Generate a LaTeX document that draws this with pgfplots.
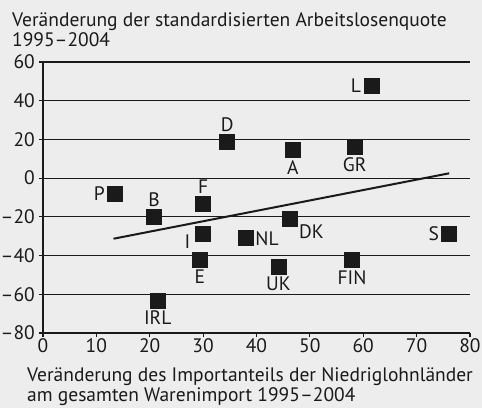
\documentclass[border=0pt]{standalone}
\usepackage{fontspec}
\setmainfont{PT Sans}
\usepackage{pgfplots}
\pgfplotsset{compat=1.18}
\definecolor{bg}{HTML}{EDEDED}
\definecolor{ink}{HTML}{1A1A1A}

\pgfplotsset{
    land/.style={
        only marks, mark=square*, mark size=7.5pt, ink,
        point meta=explicit symbolic,
        nodes near coords,
        nodes near coords style={inner sep=0pt, ink, #1},
    },
}

\begin{document}
\begin{tikzpicture}[font=\fontsize{19.5}{19.5}\selectfont, color=ink]
\fill[bg] (0,0) rectangle (482pt,408pt);
\useasboundingbox (0,0) rectangle (482pt,408pt);

\node[anchor=base west, inner sep=0pt] at (12pt,381pt) {Veränderung der standardisierten Arbeitslosenquote};
\node[anchor=base west, inner sep=0pt] at (12pt,361.5pt) {1995–2004};
\node[anchor=base west, inner sep=0pt] at (27pt,26.5pt) {Veränderung des Importanteils der Niedriglohnländer};
\node[anchor=base west, inner sep=0pt] at (27pt,7pt) {am gesamten Warenimport 1995–2004};

\begin{axis}[
    at={(43pt,75pt)}, anchor=south west,
    scale only axis,
    width=427pt, height=271pt,
    xmin=0, xmax=80, ymin=-80, ymax=60,
    axis x line*=bottom, axis y line*=left,
    axis line style={line width=1.2pt, ink, -},
    xtick={0,10,...,80},
    xticklabels={0,10,20,30,40,50,60,70,80},
    ytick={-80,-60,...,60},
    yticklabels={–80,–60,–40,–20,0,20,40,60},
    tick align=outside,
    major tick length=4pt,
    tick style={line width=1.2pt, ink},
    ymajorgrids,
    grid style={line width=1.2pt, ink},
    xticklabel style={inner sep=0pt, yshift=-1pt},
    yticklabel style={inner sep=0pt, xshift=-4pt},
    clip=false,
]
\addplot[line width=2pt, ink] coordinates {(13.2,-31.3) (76.1,2.5)};
% label left
\addplot[land={anchor=east, xshift=-10pt}] coordinates {
    (61.5,47.6) [L] (13.5,-8.2) [P] (76.1,-28.5) [S]};
% label above
\addplot[land={anchor=south, yshift=10pt}] coordinates {
    (34.5,18.8) [D] (20.8,-19.9) [B] (30.0,-13.3) [F]};
% label below
\addplot[land={anchor=north, yshift=-10pt}] coordinates {
    (46.8,14.5) [A] (58.4,16.0) [GR] (29.4,-42.3) [E]
    (44.1,-45.7) [UK] (57.9,-42.3) [FIN] (21.5,-63.4) [IRL]};
% label right
\addplot[land={anchor=west, xshift=10pt, yshift=-1pt}] coordinates {
    (37.9,-30.7) [NL]};
% label below left
\addplot[land={anchor=center, xshift=-15.6pt, yshift=-8pt}] coordinates {
    (30.0,-28.5) [I]};
% label below right
\addplot[land={anchor=north west, xshift=8.7pt, yshift=-5.7pt}] coordinates {
    (46.3,-20.8) [DK]};
\end{axis}
\end{tikzpicture}
\end{document}
